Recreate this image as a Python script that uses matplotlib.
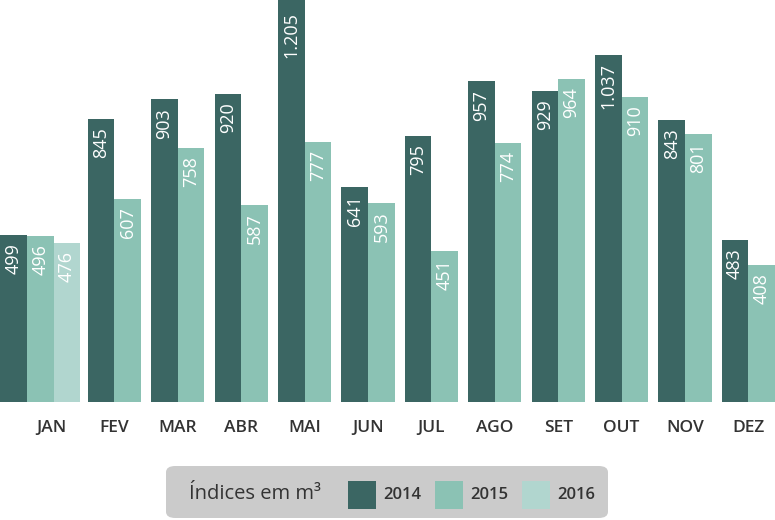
import matplotlib
matplotlib.use("Agg")
import matplotlib.pyplot as plt
from matplotlib.patches import FancyBboxPatch, Rectangle
import numpy as np

months = ["JAN", "FEV", "MAR", "ABR", "MAI", "JUN", "JUL", "AGO", "SET", "OUT", "NOV", "DEZ"]
series_names = ["2014", "2015", "2016"]
v2014 = [499, 845, 903, 920, 1205, 641, 795, 957, 929, 1037, 843, 483]
v2015 = [496, 607, 758, 587, 777, 593, 451, 774, 964, 910, 801, 408]
v2016 = [476, None, None, None, None, None, None, None, None, None, None, None]
colors = ["#3b6663", "#8bc2b4", "#b1d6cf"]
legend_title = "Índices em m³"

FONT = ["Open Sans", "DejaVu Sans"]
plt.rcParams["font.family"] = FONT

fig = plt.figure(figsize=(7.75, 5.2), dpi=100)
ax = fig.add_axes([0, (520 - 402) / 520, 1, 402 / 520])

w = 0.42
series = [v2014, v2015, v2016]
pos = np.arange(len(months))
YMAX = 1200


def fmt(v):
    return f"{v:,}".replace(",", ".")


for i, m in enumerate(months):
    present = [k for k, s in enumerate(series) if s[i] is not None]
    n = len(present)
    shift = -0.4 * w if n == 3 else 0.0
    for j, k in enumerate(present):
        val = series[k][i]
        x = pos[i] + (j - (n - 1) / 2) * w + shift
        ax.bar(x, val, width=w, color=colors[k], edgecolor="none")
        top = min(val, YMAX)
        off = -6 if val <= YMAX else -9
        ax.annotate(fmt(val), xy=(x, top), xytext=(0, off), textcoords="offset points",
                    ha="center", va="top", rotation=90, color="white", fontsize=13,
                    annotation_clip=False)

ax.set_xlim(-51 / 63.4, (775 - 51) / 63.4)
ax.set_ylim(0, YMAX)
ax.set_xticks(pos)
ax.set_xticklabels(months, fontsize=12.5, fontweight="semibold", color="#333333")
ax.tick_params(axis="x", length=0, pad=13)
ax.set_yticks([])
for sp in ax.spines.values():
    sp.set_visible(False)

# legend box
W, H = 775, 520


def fx(px):
    return px / W


def fy(py):
    return 1 - py / H


box = FancyBboxPatch((fx(166), fy(518)), fx(608) - fx(166), fy(466) - fy(518),
                     boxstyle="round,pad=0,rounding_size=0.012", transform=fig.transFigure,
                     facecolor="#cbcbcb", edgecolor="none")
fig.patches.append(box)
fig.text(fx(189), fy(494), legend_title, ha="left", va="center", fontsize=14.5,
         color="#333333")
sw_x = [348, 435, 522]
for k, name in enumerate(series_names):
    r = Rectangle((fx(sw_x[k]), fy(509)), fx(28), fy(481) - fy(509), transform=fig.transFigure,
                  facecolor=colors[k], edgecolor="none")
    fig.patches.append(r)
    fig.text(fx(sw_x[k] + 35), fy(495), name, ha="left", va="center", fontsize=12,
             fontweight="semibold", color="#333333")

fig.savefig("out.png", dpi=100)
